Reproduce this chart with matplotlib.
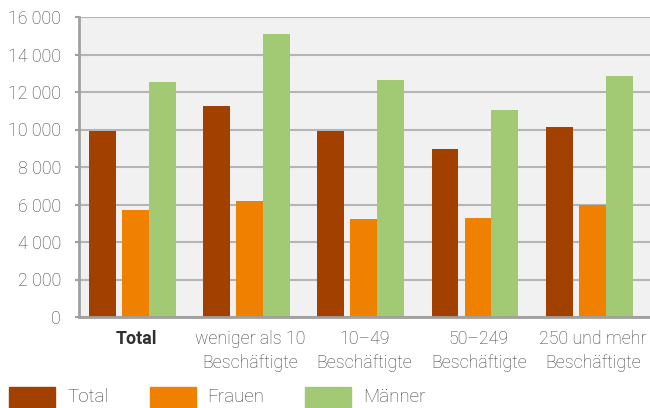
import numpy as np
import matplotlib
matplotlib.use('Agg')
import matplotlib.pyplot as plt
from matplotlib.patches import Rectangle

categories = ['Total', 'weniger als 10\nBeschäftigte', '10–49\nBeschäftigte',
              '50–249\nBeschäftigte', '250 und mehr\nBeschäftigte']
series = ['Total', 'Frauen', 'Männer']
total = [9930, 11270, 9930, 8970, 10140]
frauen = [5710, 6190, 5220, 5280, 5970]
maenner = [12550, 15120, 12660, 11050, 12870]
yticks = [0, 2000, 4000, 6000, 8000, 10000, 12000, 14000, 16000]

colors = ['#a24000', '#f08000', '#a2c974']
plt.rcParams['font.family'] = ['Roboto', 'DejaVu Sans']

fig = plt.figure(figsize=(6.5, 4.08), dpi=100)
ax = fig.add_axes([79 / 650, 1 - 317 / 408, 571 / 650, 300 / 408])
ax.set_facecolor('#f1f1f1')

x = np.arange(len(categories))
w = 0.236
offsets = [-0.295, -0.006, 0.230]
for vals, off, c in zip([total, frauen, maenner], offsets, colors):
    ax.bar(x + off, vals, width=w, color=c, zorder=3)

ax.set_xlim(-0.5, len(categories) - 0.5)
ax.set_ylim(0, 16000)
ax.set_yticks(yticks)
ax.set_yticklabels([f'{v:,}'.replace(',', ' ') for v in yticks])
ax.yaxis.grid(True, color='#b5b5b5', linewidth=1.5, zorder=1)
ax.tick_params(axis='y', length=3, color='#a0a0a0', width=1.5, pad=10,
               labelsize=12.8, labelcolor='#404040')
ax.set_xticks(x)
ax.set_xticklabels(categories, linespacing=1.5)
ax.tick_params(axis='x', length=0, pad=9, labelsize=12.8, labelcolor='#404040')
for lab in ax.get_xticklabels():
    lab.set_fontweight('light')
ax.get_xticklabels()[0].set_fontweight('bold')
ax.get_xticklabels()[0].set_color('#303030')
for lab in ax.get_yticklabels():
    lab.set_fontweight('light')

for s in ['top', 'right']:
    ax.spines[s].set_visible(False)
for s in ['left', 'bottom']:
    ax.spines[s].set_color('#a0a0a0')
    ax.spines[s].set_linewidth(2)
    ax.spines[s].set_zorder(4)

# legend drawn by hand along the bottom edge
patch_x = [9, 150, 305]
text_x = [67, 207, 363]
for px, tx, name, c in zip(patch_x, text_x, series, colors):
    fig.add_artist(Rectangle((px / 650, 0), 46 / 650, 21 / 408,
                             transform=fig.transFigure, color=c))
    fig.text(tx / 650, 1 - 397 / 408, name, va='center', ha='left',
             fontsize=13.5, color='#404040', fontweight='light')

fig.savefig('out.png', dpi=100)
